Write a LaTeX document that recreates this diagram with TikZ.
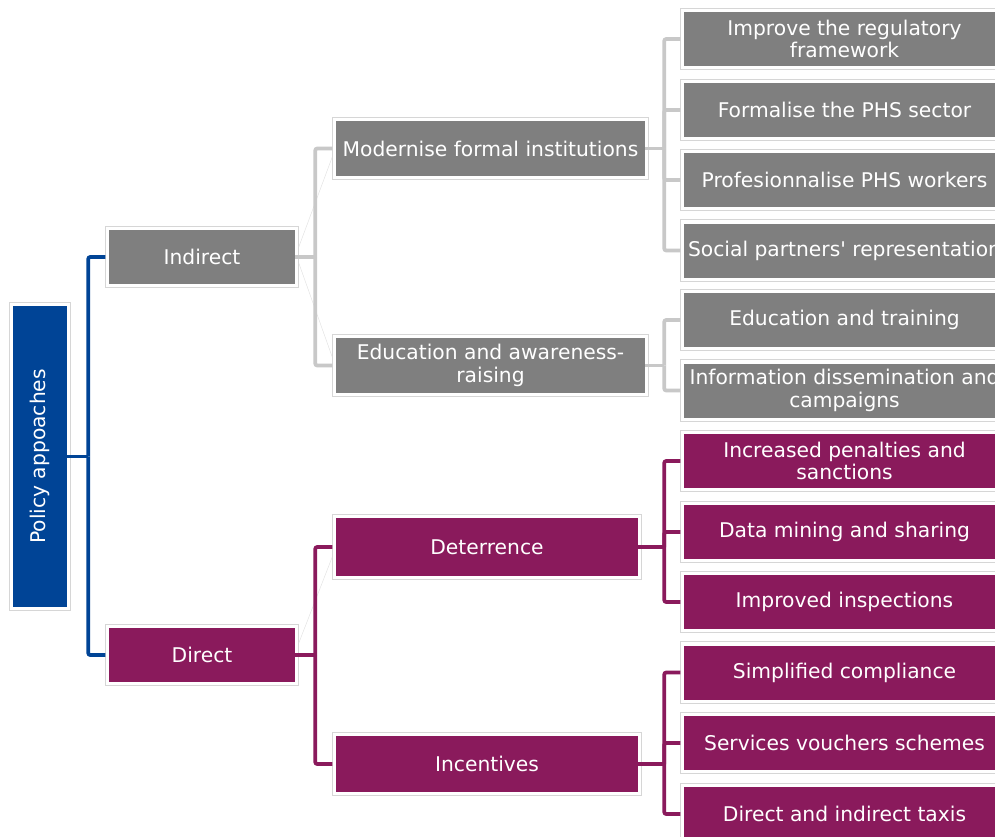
\documentclass[tikz,border=0pt]{standalone}
\usepackage{fontspec}
\setmainfont{DejaVu Sans}
\usetikzlibrary{calc}
\definecolor{cblue}{RGB}{0,68,150}
\definecolor{cgray}{RGB}{127,127,127}
\definecolor{cpurp}{RGB}{138,26,92}
\definecolor{clgray}{RGB}{200,200,200}
\definecolor{cframe}{RGB}{214,214,214}
\begin{document}
\begin{tikzpicture}[x=0.75pt,y=-0.75pt,
  box/.style={rectangle, inner sep=0pt, text=white, align=center,
    font=\fontsize{15.2}{17}\selectfont},
  bbox/.style={box, fill=cblue},
  gbox/.style={box, fill=cgray},
  pbox/.style={box, fill=cpurp},
  lvl1/.style={minimum width=186*0.75pt, minimum height=54*0.75pt},
  leaf/.style={minimum width=321*0.75pt, minimum height=54*0.75pt},
  frame/.style={draw=cframe, line width=0.6pt},
  conn/.style={line width=2.8pt, rounded corners=1.5pt, shorten >=2.6pt},
  bl/.style={conn, draw=cblue},
  gl/.style={conn, draw=clgray},
  pl/.style={conn, draw=cpurp},
  faint/.style={draw=black!12, line width=0.3pt}]
\useasboundingbox (0,0) rectangle (995,836);
\clip (0,0) rectangle (995,836);
\fill[white] (0,0) rectangle (995,836);

% root
\node[bbox, minimum width=54*0.75pt, minimum height=301*0.75pt] (root) at (40,456.5) {\rotatebox{90}{Policy appoaches}};
% level 1
\node[gbox, lvl1] (ind) at (202,257) {Indirect};
\node[pbox, lvl1] (dir) at (202,655) {Direct};
% level 2
\node[gbox, minimum width=309*0.75pt, minimum height=55*0.75pt] (mod) at (490.5,148.5) {Modernise formal institutions};
\node[gbox, minimum width=309*0.75pt, minimum height=55*0.75pt] (edu) at (490.5,365.5) {Education and awareness-\\raising};
\node[pbox, minimum width=302*0.75pt, minimum height=58*0.75pt] (det) at (487,547) {Deterrence};
\node[pbox, minimum width=302*0.75pt, minimum height=56*0.75pt] (inc) at (487,764) {Incentives};
% leaves
\node[gbox, leaf] (l1) at (844.5,39) {Improve the regulatory\\framework};
\node[gbox, leaf] (l2) at (844.5,110) {Formalise the PHS sector};
\node[gbox, leaf] (l3) at (844.5,180) {Profesionnalise PHS workers};
\node[gbox, leaf] (l4) at (844.5,250.5) {Social partners\textquotesingle\ representation};
\node[gbox, leaf] (l5) at (844.5,320) {Education and training};
\node[gbox, leaf] (l6) at (844.5,390.5) {Information dissemination and\\campaigns};
\node[pbox, leaf] (l7) at (844.5,461) {Increased penalties and\\sanctions};
\node[pbox, leaf] (l8) at (844.5,532) {Data mining and sharing};
\node[pbox, leaf] (l9) at (844.5,602) {Improved inspections};
\node[pbox, leaf] (l10) at (844.5,672.5) {Simplified compliance};
\node[pbox, leaf] (l11) at (844.5,743) {Services vouchers schemes};
\node[pbox, leaf] (l12) at (844.5,814) {Direct and indirect taxis};

% frames
\foreach \n in {root,ind,dir,mod,edu,det,inc,l1,l2,l3,l4,l5,l6,l7,l8,l9,l10,l11,l12}
  \draw[frame] ([shift={(-3.5,-3.5)}]\n.north west) rectangle ([shift={(3.5,3.5)}]\n.south east);

% faint diagonal traces
\draw[faint] ([shift={(3.5,-10)}]ind.east) -- ([shift={(-3.5,8.5)}]mod.west);
\draw[faint] ([shift={(3.5,6)}]ind.east) -- ([shift={(-3.5,-8.5)}]edu.west);
\draw[faint] ([shift={(3.5,-12)}]dir.east) -- ([shift={(-3.5,10)}]det.west);

% connectors
\path (root.east) ++(21,0) coordinate (j0);
\draw[bl, shorten >=0pt] (root.east) -- (j0);
\draw[bl] (j0) |- (ind.west);
\draw[bl] (j0) |- (dir.west);

\path (ind.east) ++(20,0) coordinate (ji);
\draw[gl, shorten >=0pt] (ind.east) -- (ji);
\draw[gl] (ji) |- (mod.west);
\draw[gl] (ji) |- (edu.west);

\path (dir.east) ++(20,0) coordinate (jd);
\draw[pl, shorten >=0pt] (dir.east) -- (jd);
\draw[pl] (jd) |- (det.west);
\draw[pl] (jd) |- (inc.west);

\path (mod.east) ++(19,0) coordinate (jm);
\draw[gl, shorten >=0pt] (mod.east) -- (jm);
\foreach \l in {l1,l2,l3,l4} \draw[gl] (jm) |- (\l.west);

\path (edu.east) ++(19,0) coordinate (je);
\draw[gl, shorten >=0pt] (edu.east) -- (je);
\foreach \l in {l5,l6} \draw[gl] (je) |- (\l.west);

\path (det.east) ++(26,0) coordinate (jt);
\draw[pl, shorten >=0pt] (det.east) -- (jt);
\foreach \l in {l7,l8,l9} \draw[pl] (jt) |- (\l.west);

\path (inc.east) ++(26,0) coordinate (jc);
\draw[pl, shorten >=0pt] (inc.east) -- (jc);
\foreach \l in {l10,l11,l12} \draw[pl] (jc) |- (\l.west);
\end{tikzpicture}
\end{document}
